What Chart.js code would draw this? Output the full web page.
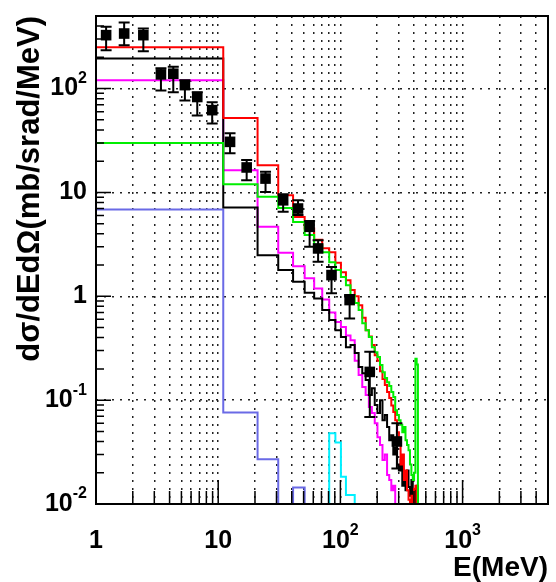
<!DOCTYPE html>
<html>
<head>
<meta charset="utf-8">
<script src="https://cdn.jsdelivr.net/npm/chart.js@4.4.1/dist/chart.umd.min.js"></script>
<style>
  html, body { margin: 0; padding: 0; background: #fff; }
  canvas { display: block; }
</style>
</head>
<body>
<canvas id="spectrum" width="556" height="582"></canvas>
<script>
// bin edges in MeV (10 MeV wide bins)
const binEdges = [1, 11, 21, 31, 41, 51, 61, 71, 81, 91, 101, 111, 121, 131, 141, 151, 161, 171, 181, 191,
  201, 211, 221, 231, 241, 251, 261, 271, 281, 291, 301, 311, 321, 331, 341, 351, 361, 371, 381, 391,
  401, 411, 421, 431, 441, 451, 461];

const redVals = [250, 52, 18.3, 9.4, 5.8, 4.5, 3.5, 2.9, 2.65, 2.1, 1.7, 1.43, 1.15, 1.0, 0.82, 0.62, 0.47, 0.41, 0.34, 0.27,
  0.24, 0.19, 0.16, 0.14, 0.12, 0.105, 0.089, 0.077, 0.064, 0.049, 0.037, 0.024, 0.03, 0.017, 0.021, 0.0136, 0.011, 0.01, 0.012, 0.01,
  0.014, 0.015, 0.01, 0.01, 0.01, 0.01];
const greenVals = [30, 12, 9.1, 7.1, 5.2, 3.9, 3.1, 2.66, 2.13, 1.79, 1.53, 1.28, 1.03, 0.86, 0.74, 0.55, 0.47, 0.405, 0.324, 0.29,
  0.26, 0.218, 0.186, 0.163, 0.149, 0.137, 0.12, 0.107, 0.08, 0.072, 0.064, 0.058, 0.049, 0.055, 0.041, 0.037, 0.033, 0.024, 0.019, 0.017,
  0.02, 0.25, 0.22, 0.01, 0.01, 0.01];
const magentaVals = [120, 16.4, 4.67, 2.62, 1.95, 1.49, 1.19, 0.93, 0.70, 0.565, 0.506, 0.42, 0.378, 0.24, 0.175, 0.134, 0.112, 0.086, 0.075, 0.060,
  0.044, 0.037, 0.0265, 0.030, 0.019, 0.017, 0.0136, 0.015, 0.01, 0.01, 0.01, 0.01, 0.01, 0.01, 0.01, 0.01, 0.01, 0.01, 0.01, 0.01,
  0.01, 0.01, 0.01, 0.01, 0.01, 0.01];
const blackVals = [195, 7.18, 2.49, 1.79, 1.38, 1.08, 0.95, 0.74, 0.59, 0.47, 0.405, 0.324, 0.34, 0.284, 0.208, 0.182, 0.156, 0.112, 0.13, 0.09,
  0.075, 0.1, 0.064, 0.072, 0.055, 0.041, 0.046, 0.03, 0.035, 0.024, 0.021, 0.0265, 0.015, 0.019, 0.0136, 0.021, 0.0146, 0.012, 0.017, 0.011,
  0.01, 0.0136, 0.015, 0.01, 0.01, 0.01];
const blueVals = [6.86, 0.076, 0.027, 0.01, 0.0144, 0.01, 0.01, 0.01, 0.01, 0.01, 0.01, 0.01, 0.01, 0.01, 0.01, 0.01, 0.01, 0.01, 0.01, 0.01,
  0.01, 0.01, 0.01, 0.01, 0.01, 0.01, 0.01, 0.01, 0.01, 0.01, 0.01, 0.01, 0.01, 0.01, 0.01, 0.01, 0.01, 0.01, 0.01, 0.01,
  0.01, 0.01, 0.01, 0.01, 0.01, 0.01];
const cyanVals = [0.01, 0.01, 0.01, 0.01, 0.01, 0.01, 0.01, 0.01, 0.048, 0.039, 0.0183, 0.0122, 0.0122, 0.01, 0.01, 0.01, 0.01, 0.01, 0.01, 0.01,
  0.01, 0.01, 0.01, 0.01, 0.01, 0.01, 0.01, 0.01, 0.01, 0.01, 0.01, 0.01, 0.01, 0.01, 0.01, 0.01, 0.01, 0.01, 0.01, 0.01,
  0.01, 0.01, 0.01, 0.01, 0.01, 0.01];

// measured points with error bars
const ptE  = [1.21, 1.70, 2.44, 3.40, 4.29, 5.34, 6.74, 8.93, 12.5, 17.1, 24.4, 34, 45, 56, 65.7, 84.6, 119, 174, 290];
const ptV  = [327, 339, 327, 137, 139, 108, 83, 62, 30.7, 17.4, 13.6, 8.4, 7.0, 4.67, 2.89, 1.60, 0.92, 0.187, 0.04];
const ptLo = [234, 262, 229, 96, 92, 77, 55, 46, 23.9, 13.1, 10.1, 6.5, 6.05, 3.0, 2.15, 1.07, 0.61, 0.069, 0.022];
const ptHi = [393, 433, 379, 157, 162, 120, 92, 74, 37.2, 20.5, 15.8, 9.6, 8.43, 5.3, 3.47, 1.91, 1.03, 0.292, 0.06];

// axis ticks and labels
const xTicks = [1, 2, 3, 4, 5, 6, 7, 8, 9, 10, 20, 30, 40, 50, 60, 70, 80, 90, 100, 200, 300, 400, 500, 600, 700, 800, 900,
  1000, 2000, 3000, 4000, 5000];
const yTicks = [0.01, 0.02, 0.03, 0.04, 0.05, 0.06, 0.07, 0.08, 0.09, 0.1, 0.2, 0.3, 0.4, 0.5, 0.6, 0.7, 0.8, 0.9,
  1, 2, 3, 4, 5, 6, 7, 8, 9, 10, 20, 30, 40, 50, 60, 70, 80, 90, 100, 200, 300, 400, 500];
const xLabelVals = [1, 10, 100, 1000];
const xLabelBase = ['1', '10', '10', '10'];
const xLabelSup  = ['', '', '2', '3'];
const yLabelVals = [0.01, 0.1, 1, 10, 100];
const yLabelBase = ['10', '10', '1', '10', '10'];
const yLabelSup  = ['-2', '-1', '', '', '2'];

const FONT = "'Liberation Sans', Arial, sans-serif";

function histPoints(vals) {
  const pts = vals.map((v, i) => ({ x: binEdges[i], y: v }));
  pts.push({ x: binEdges[binEdges.length - 1], y: 0.01 });
  return pts;
}

function histSet(label, vals, color, order) {
  return {
    label, data: histPoints(vals), borderColor: color, borderWidth: 2,
    stepped: 'before', pointRadius: 0, fill: false, tension: 0, order
  };
}

const isDecade = v => Math.abs(Math.log10(v) - Math.round(Math.log10(v))) < 1e-6;

function drawLabel(ctx, base, sup, x, y, align) {
  ctx.font = 'bold 25px ' + FONT;
  const wb = ctx.measureText(base).width;
  ctx.font = 'bold 16px ' + FONT;
  const ws = sup ? ctx.measureText(sup).width : 0;
  const total = wb + ws;
  const x0 = align === 'center' ? x - total / 2 : x - total;
  ctx.textAlign = 'left';
  ctx.textBaseline = 'middle';
  ctx.font = 'bold 25px ' + FONT;
  ctx.fillText(base, x0, y);
  if (sup) {
    ctx.font = 'bold 16px ' + FONT;
    ctx.fillText(sup, x0 + wb, y - 10);
  }
}

const rootAxes = {
  id: 'rootAxes',
  afterDatasetsDraw(chart) {
    const { ctx, scales: { x, y } } = chart;
    ctx.save();
    ctx.strokeStyle = '#000';
    ctx.lineWidth = 2;
    ptE.forEach((e, i) => {
      const px = x.getPixelForValue(e);
      const lo = y.getPixelForValue(ptLo[i]);
      const hi = y.getPixelForValue(ptHi[i]);
      ctx.beginPath();
      ctx.moveTo(px, lo); ctx.lineTo(px, hi);
      ctx.moveTo(px - 5.5, lo); ctx.lineTo(px + 5.5, lo);
      ctx.moveTo(px - 5.5, hi); ctx.lineTo(px + 5.5, hi);
      ctx.stroke();
    });
    ctx.restore();
  },
  afterDraw(chart) {
    const { ctx, chartArea: a, scales: { x, y } } = chart;
    ctx.save();
    ctx.strokeStyle = '#000';
    ctx.lineWidth = 1.5;
    ctx.beginPath();
    xTicks.forEach(v => {
      const px = x.getPixelForValue(v);
      const len = isDecade(v) ? 24 : 13;
      ctx.moveTo(px, a.bottom);
      ctx.lineTo(px, a.bottom - len);
    });
    yTicks.forEach(v => {
      const py = y.getPixelForValue(v);
      const len = isDecade(v) ? 15 : 8;
      ctx.moveTo(a.left, py);
      ctx.lineTo(a.left + len, py);
    });
    ctx.stroke();
    ctx.lineWidth = 2;
    ctx.strokeRect(a.left, a.top, a.right - a.left, a.bottom - a.top);

    ctx.fillStyle = '#000';
    xLabelVals.forEach((v, i) => {
      drawLabel(ctx, xLabelBase[i], xLabelSup[i], x.getPixelForValue(v), a.bottom + 37, 'center');
    });
    yLabelVals.forEach((v, i) => {
      drawLabel(ctx, yLabelBase[i], yLabelSup[i], a.left - 9, y.getPixelForValue(v), 'right');
    });
    ctx.restore();
  }
};

new Chart(document.getElementById('spectrum'), {
  type: 'line',
  data: {
    datasets: [
      {
        label: 'data', data: ptE.map((e, i) => ({ x: e, y: ptV[i] })),
        showLine: false, pointStyle: 'rect', pointRadius: 7.5, pointBackgroundColor: '#000',
        pointBorderWidth: 0, order: 0
      },
      histSet('green', greenVals, '#00ee00', 1),
      histSet('red', redVals, '#ff0000', 2),
      histSet('black', blackVals, '#000000', 3),
      histSet('magenta', magentaVals, '#ff00ff', 4),
      histSet('blue', blueVals, '#6a6ae6', 5),
      histSet('cyan', cyanVals, '#00f0ff', 6)
    ]
  },
  options: {
    responsive: false,
    animation: false,
    layout: { padding: { left: 0, right: 8, top: 16, bottom: 0 } },
    plugins: { legend: { display: false }, tooltip: { enabled: false } },
    scales: {
      x: {
        type: 'logarithmic', min: 1, max: 5000,
        afterBuildTicks: s => { s.ticks = xTicks.map(v => ({ value: v })); },
        afterFit: s => { s.height = 78; },
        ticks: { display: false },
        grid: { color: '#222', lineWidth: 1.5, drawTicks: false },
        border: { display: false, dash: [2, 6] },
        title: {
          display: true, text: 'E(MeV)', align: 'end', color: '#000',
          font: { family: FONT, size: 28, weight: 'bold', lineHeight: 1.0 },
          padding: { top: 0, bottom: 0 }
        }
      },
      y: {
        type: 'logarithmic', min: 0.01, max: 500,
        afterBuildTicks: s => { s.ticks = yTicks.map(v => ({ value: v })); },
        afterFit: s => { s.width = 96; },
        ticks: { display: false },
        grid: {
          color: c => (c.tick && isDecade(c.tick.value)) ? '#222' : 'rgba(0,0,0,0)',
          lineWidth: 1.5, drawTicks: false
        },
        border: { display: false, dash: [2, 6] },
        title: {
          display: true, text: 'dσ/dEdΩ(mb/srad/MeV)', align: 'end', color: '#000',
          font: { family: FONT, size: 31, weight: 'bold' },
          padding: { top: 12, bottom: 0 }
        }
      }
    }
  },
  plugins: [rootAxes]
});
</script>
</body>
</html>
